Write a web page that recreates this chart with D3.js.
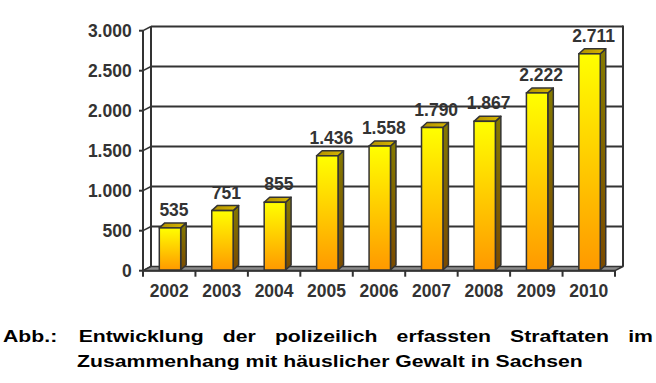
<!DOCTYPE html>
<html><head><meta charset="utf-8">
<script src="https://cdn.jsdelivr.net/npm/d3@7"></script>
<style>body{margin:0;background:#fff;} svg{display:block;}</style>
</head><body>
<script>
// ---- data ----
const years = ["2002","2003","2004","2005","2006","2007","2008","2009","2010"];
const values = [535, 751, 855, 1436, 1558, 1790, 1867, 2222, 2711];
const yTicks = [0, 500, 1000, 1500, 2000, 2500, 3000];
const captionLine1 = ["Entwicklung","der","polizeilich","erfassten","Straftaten","im"];
const captionPrefix = "Abb.:";
const captionLine2 = "Zusammenhang mit häuslicher Gewalt in Sachsen";

const W = 656, H = 383;
const svg = d3.select("body").append("svg").attr("width", W).attr("height", H);
const defs = svg.append("defs");
const gFront = defs.append("linearGradient").attr("id","gf").attr("x1",0).attr("y1",0).attr("x2",0).attr("y2",1);
gFront.append("stop").attr("offset","0%").attr("stop-color","#ffff00");
gFront.append("stop").attr("offset","100%").attr("stop-color","#ff9900");
const gSide = defs.append("linearGradient").attr("id","gs").attr("x1",0).attr("y1",0).attr("x2",0).attr("y2",1);
gSide.append("stop").attr("offset","0%").attr("stop-color","#857a00");
gSide.append("stop").attr("offset","100%").attr("stop-color","#7a4a00");
const gTop = defs.append("linearGradient").attr("id","gt").attr("x1",0).attr("y1",0).attr("x2",1).attr("y2",0);
gTop.append("stop").attr("offset","0%").attr("stop-color","#b09000");
gTop.append("stop").attr("offset","100%").attr("stop-color","#d8b800");

// ---- geometry ----
const x0 = 143, x1 = 615;
const DX = 8, DY = -4.2;     // back-wall offset
const BDX = 5.5, BDY = -5;   // bar depth
const x = d3.scaleBand().domain(years).range([x0, x1]).paddingInner(0).paddingOuter(0);
const y = d3.scaleLinear().domain([0, 3000]).range([270.7, 30.7]);
const barOff = 16.3, barW = 21.4;
const ink = "#333333";
const FS = 17.5;

// grid lines on back wall
const gGrid = svg.append("g");
gGrid.selectAll("line.grid").data(yTicks.filter(d => d > 0)).join("line")
  .attr("x1", x0 + DX).attr("x2", x1 + DX)
  .attr("y1", d => y(d) + DY).attr("y2", d => y(d) + DY)
  .attr("stroke", ink).attr("stroke-width", 2);
gGrid.selectAll("line.conn").data(yTicks).join("line")
  .attr("x1", x0).attr("y1", d => y(d))
  .attr("x2", x0 + DX).attr("y2", d => y(d) + DY)
  .attr("stroke", ink).attr("stroke-width", 1.5);
gGrid.append("line").attr("x1", x0 + DX).attr("x2", x0 + DX)
  .attr("y1", y(3000) + DY).attr("y2", y(0) + DY).attr("stroke", ink).attr("stroke-width", 2);
gGrid.append("line").attr("x1", x1 + DX).attr("x2", x1 + DX)
  .attr("y1", y(3000) + DY - 1).attr("y2", y(0) + DY).attr("stroke", ink).attr("stroke-width", 2);

// floor
svg.append("path")
  .attr("d", `M${x0},${y(0)}L${x1},${y(0)}L${x1 + DX},${y(0) + DY}L${x0 + DX},${y(0) + DY}Z`)
  .attr("fill", "#8c8c8c").attr("stroke", ink).attr("stroke-width", 1.5).attr("stroke-linejoin","round");

// front y axis
svg.append("line").attr("x1", x0).attr("x2", x0).attr("y1", y(3000)).attr("y2", y(0) + 1)
  .attr("stroke", ink).attr("stroke-width", 2);
svg.selectAll("line.ytick").data(yTicks).join("line")
  .attr("x1", x0 - 4).attr("x2", x0).attr("y1", d => y(d)).attr("y2", d => y(d))
  .attr("stroke", ink).attr("stroke-width", 2);
const fmt = d => d3.format(",")(d).replace(/,/g, ".");
svg.selectAll("text.ylab").data(yTicks).join("text")
  .attr("x", 131.7).attr("y", d => y(d) + 6.2)
  .attr("text-anchor", "end")
  .attr("font-family", "Liberation Sans, Arial, sans-serif").attr("font-weight", "bold")
  .attr("font-size", FS).attr("fill", ink).text(fmt);

// front x axis
svg.append("line").attr("x1", x0).attr("x2", x1).attr("y1", y(0)).attr("y2", y(0))
  .attr("stroke", ink).attr("stroke-width", 2);
const tickXs = years.map(d => x(d)).concat([x1]);
svg.selectAll("line.xtick").data(tickXs).join("line")
  .attr("x1", d => d).attr("x2", d => d).attr("y1", y(0)).attr("y2", y(0) + 6)
  .attr("stroke", ink).attr("stroke-width", 2);
svg.selectAll("text.xlab").data(years).join("text")
  .attr("x", d => x(d) + x.bandwidth() / 2).attr("y", 296.7)
  .attr("text-anchor", "middle")
  .attr("font-family", "Liberation Sans, Arial, sans-serif").attr("font-weight", "bold")
  .attr("font-size", FS).attr("fill", ink).text(d => d);

// bars
const bars = svg.selectAll("g.bar").data(years.map((yr, i) => ({yr, v: values[i]}))).join("g");
bars.each(function(d) {
  const g = d3.select(this);
  const bx = x(d.yr) + barOff, by = y(d.v), bb = y(0) - 0.7;
  g.append("path").attr("d", `M${bx + barW},${bb}L${bx + barW + BDX},${bb + BDY}L${bx + barW + BDX},${by + BDY}L${bx + barW},${by}Z`)
    .attr("fill", "url(#gs)").attr("stroke", ink).attr("stroke-width", 1.5).attr("stroke-linejoin","round");
  g.append("path").attr("d", `M${bx},${by}L${bx + BDX},${by + BDY}L${bx + barW + BDX},${by + BDY}L${bx + barW},${by}Z`)
    .attr("fill", "url(#gt)").attr("stroke", ink).attr("stroke-width", 1.5).attr("stroke-linejoin","round");
  g.append("rect").attr("x", bx).attr("y", by).attr("width", barW).attr("height", bb - by)
    .attr("fill", "url(#gf)").attr("stroke", ink).attr("stroke-width", 1.5);
  g.append("text").attr("x", bx + barW / 2 + 4).attr("y", by - 12)
    .attr("text-anchor", "middle")
    .attr("font-family", "Liberation Sans, Arial, sans-serif").attr("font-weight", "bold")
    .attr("font-size", FS).attr("fill", ink).text(fmt(d.v));
});

// caption
const capFont = {family: "Liberation Sans, Arial, sans-serif", size: 16.5};
const cap = svg.append("g");
function addWord(txt, xx, yy, sx) {
  return cap.append("text").attr("transform", `translate(${xx},${yy}) scale(${sx},1)`)
    .attr("font-family", capFont.family).attr("font-weight", "bold")
    .attr("font-size", capFont.size).attr("fill", "#000").text(txt);
}
const tmp = addWord(captionLine2, 0, -100, 1);
const nat2 = tmp.node().getComputedTextLength();
tmp.remove();
const sx = 506 / nat2;
addWord(captionLine2, 77, 366.7, sx);
addWord(captionPrefix, 3, 342.3, sx);
const widths = captionLine1.map(w => {
  const t = addWord(w, 0, -100, 1); const wd = t.node().getComputedTextLength() * sx; t.remove(); return wd;
});
const start = 78.7, end = 653;
const gap = (end - start - d3.sum(widths)) / (captionLine1.length - 1);
let cx = start;
captionLine1.forEach((w, i) => { addWord(w, cx, 342.3, sx); cx += widths[i] + gap; });
</script>
</body></html>
